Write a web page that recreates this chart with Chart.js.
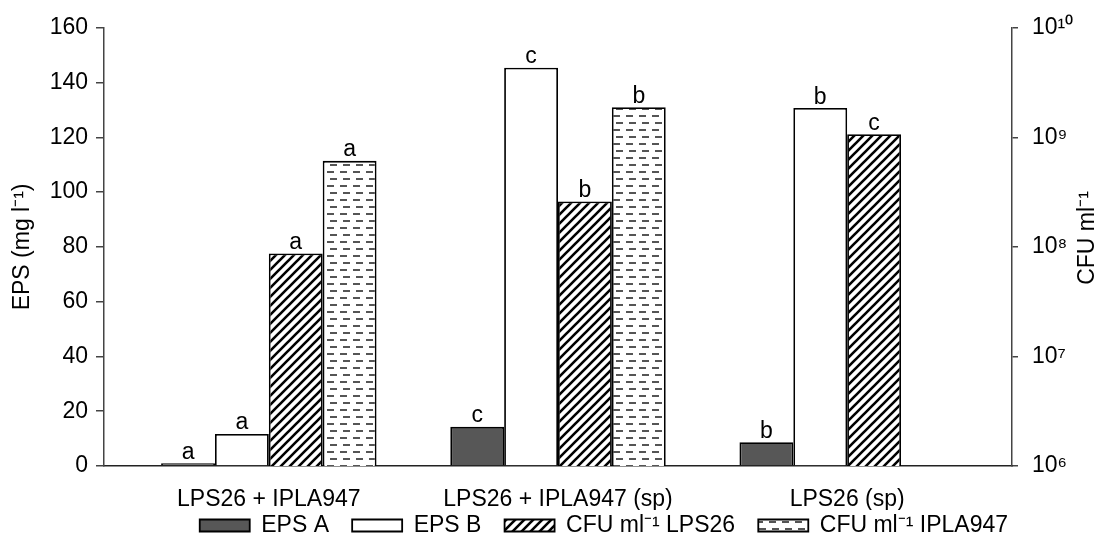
<!DOCTYPE html>
<html>
<head>
<meta charset="utf-8">
<script src="https://cdn.jsdelivr.net/npm/chart.js@4.4.0/dist/chart.umd.min.js"></script>
<style>
  html, body { margin: 0; padding: 0; background: #fff; }
</style>
</head>
<body>
<canvas id="chart" width="1103" height="540"></canvas>
<script>
// values
const categories = ['LPS26 + IPLA947', 'LPS26 + IPLA947 (sp)', 'LPS26 (sp)'];
const epsA = [1, 14.3, 8.7];               // mg l-1
const epsB = [11.7, 145.4, 130.7];         // mg l-1
const cfuLPS26 = [8.7e7, 2.6e8, 1.07e9];   // CFU ml-1
const cfuIPLA947 = [6.1e8, 1.88e9, null];  // CFU ml-1
const lettersA = ['a', 'c', 'b'];
const lettersB = ['a', 'c', 'b'];
const lettersLPS26 = ['a', 'b', 'c'];
const lettersIPLA947 = ['a', 'b', ''];
const epsTicks = [0, 20, 40, 60, 80, 100, 120, 140, 160];
const cfuTicks = [1e6, 1e7, 1e8, 1e9, 1e10];
const cfuTickLabels = ['10⁶', '10⁷', '10⁸', '10⁹', '10¹⁰'];

const FONT = '"Liberation Sans", Arial, sans-serif';
Chart.defaults.font.family = FONT;
Chart.defaults.font.size = 23;
Chart.defaults.color = '#000';

// fill patterns used in the print figure
function hatchPattern() {
  const c = document.createElement('canvas');
  c.width = 9; c.height = 9;
  const g = c.getContext('2d');
  g.fillStyle = '#fff';
  g.fillRect(0, 0, 9, 9);
  g.strokeStyle = '#000';
  g.lineWidth = 2.6;
  g.beginPath();
  g.moveTo(-1, 10); g.lineTo(10, -1);
  g.moveTo(-2, 2); g.lineTo(2, -2);
  g.moveTo(7, 11); g.lineTo(11, 7);
  g.stroke();
  return g.createPattern(c, 'repeat');
}

function dashPattern() {
  const c = document.createElement('canvas');
  c.width = 13; c.height = 14;
  const g = c.getContext('2d');
  g.fillStyle = '#fff';
  g.fillRect(0, 0, 13, 14);
  g.fillStyle = '#555';
  g.fillRect(2, 3, 7, 2);
  g.fillRect(5, 10, 7, 2);
  return g.createPattern(c, 'repeat');
}

const toPoints = arr => arr.map((v, i) => ({ x: i, y: v }));

const barStyle = { borderColor: '#000', borderWidth: 1.8, borderSkipped: 'bottom' };

const seriesLetters = [lettersA, lettersB, lettersLPS26, lettersIPLA947];

const letterPlugin = {
  id: 'barLetters',
  afterDatasetsDraw(chart) {
    const ctx = chart.ctx;
    ctx.save();
    ctx.fillStyle = '#000';
    ctx.font = '23px ' + FONT;
    ctx.textAlign = 'center';
    ctx.textBaseline = 'alphabetic';
    chart.data.datasets.forEach((ds, i) => {
      const meta = chart.getDatasetMeta(i);
      meta.data.forEach((bar, j) => {
        const t = seriesLetters[i][j];
        if (!t || ds.data[j].y == null) return;
        ctx.fillText(t, bar.x, bar.y - 4.5);
      });
    });
    // right axis title reads bottom to top, like the left one
    ctx.translate(1088, 238);
    ctx.rotate(-Math.PI / 2);
    ctx.textBaseline = 'middle';
    ctx.fillText('CFU ml⁻¹', 0, 0);
    ctx.restore();
  }
};

new Chart(document.getElementById('chart'), {
  type: 'bar',
  data: {
    datasets: [
      { label: 'EPS A', data: toPoints(epsA), yAxisID: 'y', backgroundColor: '#575757', ...barStyle },
      { label: 'EPS B', data: toPoints(epsB), yAxisID: 'y', backgroundColor: '#fff', ...barStyle },
      { label: 'CFU ml⁻¹ LPS26', data: toPoints(cfuLPS26), yAxisID: 'y1', backgroundColor: hatchPattern(), ...barStyle },
      { label: 'CFU ml⁻¹ IPLA947', data: toPoints(cfuIPLA947), yAxisID: 'y1', backgroundColor: dashPattern(), ...barStyle }
    ]
  },
  options: {
    responsive: false,
    animation: false,
    categoryPercentage: 0.745,
    barPercentage: 1,
    layout: { padding: { top: 4, right: 0, bottom: -7, left: 0 } },
    plugins: {
      tooltip: { enabled: false },
      legend: {
        position: 'bottom',
        fullSize: false,
        align: 'end',
        labels: {
          boxWidth: 50,
          boxHeight: 12,
          padding: 4,
          color: '#000',
          font: { size: 23 },
          // wider gap after each entry, as in the print legend
          generateLabels: chart => Chart.defaults.plugins.legend.labels.generateLabels(chart)
            .map((item, i, all) => ({ ...item, text: i < all.length - 1 ? item.text + '   ' : item.text }))
        }
      }
    },
    scales: {
      x: {
        type: 'linear',
        min: -0.57,
        max: 2.57,
        offset: false,
        grid: { display: false, drawTicks: false },
        border: { display: true, color: '#222', width: 1.5 },
        ticks: {
          padding: 20,
          callback: v => categories[v]
        },
        afterBuildTicks: s => { s.ticks = categories.map((_, i) => ({ value: i })); },
        afterFit: s => { s.height = 44; }
      },
      y: {
        position: 'left',
        min: 0,
        max: 160,
        afterBuildTicks: s => { s.ticks = epsTicks.map(v => ({ value: v })); },
        grid: { drawOnChartArea: false, drawTicks: true, tickLength: 8, color: '#444', lineWidth: 1.5 },
        border: { color: '#444', width: 1.5 },
        ticks: { padding: 8 },
        title: { display: true, text: 'EPS (mg l⁻¹)', padding: { top: 9, bottom: 0 }, font: { size: 23 } },
        afterFit: s => { s.width = 104; }
      },
      y1: {
        type: 'logarithmic',
        position: 'right',
        min: 1e6,
        max: 1e10,
        afterBuildTicks: s => { s.ticks = cfuTicks.map(v => ({ value: v })); },
        grid: { drawOnChartArea: false, drawTicks: true, tickLength: 6, color: '#444', lineWidth: 1.5 },
        border: { color: '#444', width: 1.5 },
        ticks: {
          padding: 14,
          callback: v => cfuTickLabels[cfuTicks.indexOf(v)]
        },
        afterFit: s => { s.width = 91; }
      }
    }
  },
  plugins: [letterPlugin]
});
</script>
</body>
</html>
